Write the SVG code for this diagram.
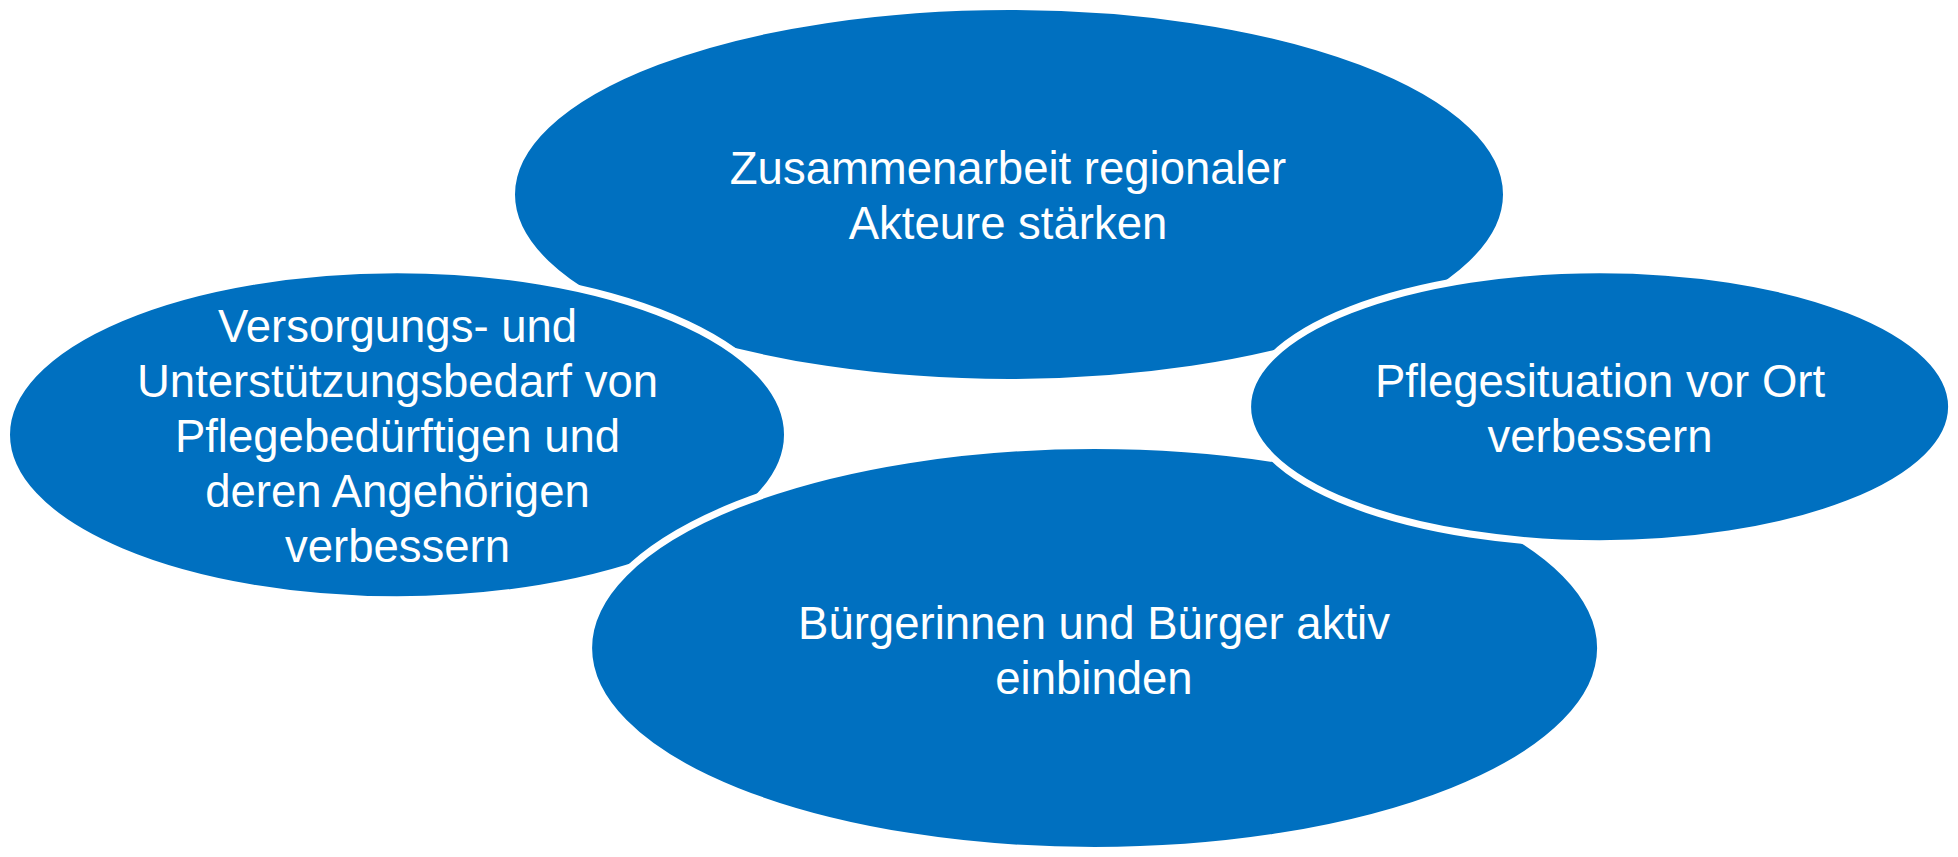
<svg xmlns="http://www.w3.org/2000/svg" width="1958" height="857" viewBox="0 0 1958 857">
<style>
.bub{fill:#0070C0;stroke:#FFFFFF;stroke-width:7}
.lbl{fill:#FFFFFF;font-family:"Liberation Sans",Arial,sans-serif;font-size:45.5px;text-anchor:middle}
</style>
<rect width="1958" height="857" fill="#FFFFFF"/>
<g id="connectors"></g>
<g id="node-top">
<ellipse class="bub" cx="1009" cy="194.5" rx="497.5" ry="188"/>
<text class="lbl" x="1008" y="184">Zusammenarbeit regionaler</text>
<text class="lbl" x="1008" y="239">Akteure stärken</text>
</g>
<g id="node-left">
<ellipse class="bub" cx="397" cy="434.7" rx="390.5" ry="165"/>
<text class="lbl" x="397.5" y="342">Versorgungs- und</text>
<text class="lbl" x="397.5" y="397">Unterstützungsbedarf von</text>
<text class="lbl" x="397.5" y="452">Pflegebedürftigen und</text>
<text class="lbl" x="397.5" y="507">deren Angehörigen</text>
<text class="lbl" x="397.5" y="562">verbessern</text>
</g>
<g id="node-bottom">
<ellipse class="bub" cx="1094.6" cy="648" rx="506" ry="202.5"/>
<text class="lbl" x="1094" y="639">Bürgerinnen und Bürger aktiv</text>
<text class="lbl" x="1094" y="694">einbinden</text>
</g>
<g id="node-right">
<ellipse class="bub" cx="1599.6" cy="406.7" rx="352" ry="137"/>
<text class="lbl" x="1600" y="397">Pflegesituation vor Ort</text>
<text class="lbl" x="1600" y="452">verbessern</text>
</g>
</svg>
